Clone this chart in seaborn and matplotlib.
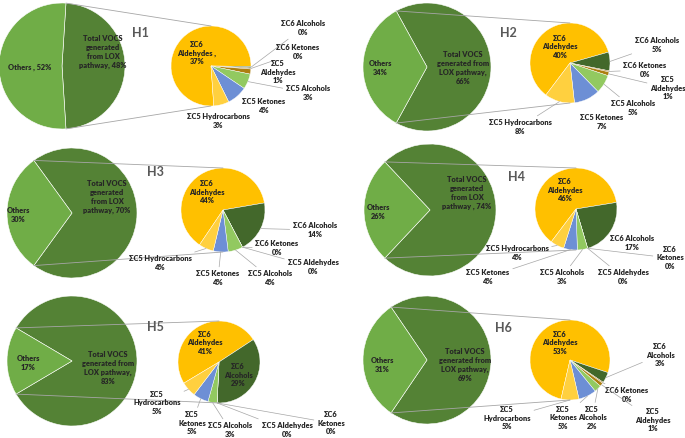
import numpy as np
import matplotlib
matplotlib.use("Agg")
import matplotlib.pyplot as plt
import seaborn as sns

## values (percent of total VOCs)
panels = ["H1", "H2", "H3", "H4", "H5", "H6"]
others = [52, 34, 30, 26, 17, 31]
lox = [48, 66, 70, 74, 83, 69]

c6_aldehydes = [37, 40, 44, 46, 41, 53]
c6_alcohols = [0.3, 5, 14, 17, 29, 3]
c6_ketones = [0.2, 0.3, 0, 0, 0, 0.3]
c5_aldehydes = [1, 1, 0, 0, 0, 1]
c5_alcohols = [3, 5, 4, 3, 3, 2]
c5_ketones = [4, 7, 4, 4, 5, 5]
c5_hydrocarbons = [3, 8, 4, 4, 5, 5]

sub_series = [c6_aldehydes, c6_alcohols, c6_ketones, c5_aldehydes,
              c5_alcohols, c5_ketones, c5_hydrocarbons]

## label texts
others_fmt = ["Others , {}", "Others\n{}", "Others\n{}", "Others\n{}", "Others\n{}", "Others\n{}"]
lox_fmt = ["Total VOCS\ngenerated\nfrom LOX\npathway, {}",
           "Total VOCS\ngenerated from\nLOX pathway,\n{}",
           "Total VOCS\ngenerated\nfrom LOX\npathway, {}",
           "Total VOCS\ngenerated\nfrom LOX\npathway , {}",
           "Total VOCS\ngenerated from\nLOX pathway,\n{}",
           "Total VOCS\ngenerated from\nLOX pathway,\n{}"]
ald_fmt = ["ΣC6\nAldehydes ,\n{}", "ΣC6\nAldehydes\n{}", "ΣC6\nAldehydes\n{}",
           "ΣC6\nAldehydes\n{}", "ΣC6\nAldehydes\n{}", "ΣC6\nAldehydes\n{}"]

## layout in pixels (y from top)
W, H = 685, 438
big_xy = [(62, 66), (427, 67), (72, 213), (430, 210), (72, 361), (427, 360)]
big_r = [63, 64, 65, 66, 65, 64]
small_xy = [(211, 66), (570, 63), (223, 210), (576, 209), (219, 362), (570, 360)]
small_r = [40, 40, 42, 41, 41, 40]
small_start = [274, 233, 236, 233, 211, 257]
title_xy = [(140, 33), (508, 33), (155, 172), (517, 177), (155, 327), (503, 328)]
others_xy = [(30, 67), (380, 68), (18, 215), (378, 212), (28, 363), (382, 365)]
lox_xy = [(103, 52), (463, 68), (107, 197), (467, 193), (108, 368), (465, 365)]
ald_xy = [(197, 53), (560, 47), (207, 192), (565, 190), (205, 343), (560, 343)]

# (series index, text, x, y, leader line)
sub_labels = [
    [(1, "ΣC6 Alcohols\n{}", 303, 28, True), (2, "ΣC6 Ketones\n{}", 298, 52, True),
     (3, "ΣC5\nAldehydes\n{}", 278, 72, False), (4, "ΣC5 Alcohols\n{}", 308, 93, True),
     (5, "ΣC5 Ketones\n{}", 264, 106, False), (6, "ΣC5 Hydrocarbons\n{}", 218, 121, False)],
    [(1, "ΣC6 Alcohols\n{}", 657, 45, True), (2, "ΣC6 Ketones\n{}", 645, 70, True),
     (3, "ΣC5\nAldehydes\n{}", 668, 88, True), (4, "ΣC5 Alcohols\n{}", 633, 108, True),
     (5, "ΣC5 Ketones\n{}", 602, 122, False), (6, "ΣC5 Hydrocarbons\n{}", 520, 127, True)],
    [(1, "ΣC6 Alcohols\n{}", 315, 230, True), (2, "ΣC6 Ketones\n{}", 277, 248, True),
     (3, "ΣC5 Aldehydes\n{}", 313, 267, True), (4, "ΣC5 Alcohols\n{}", 270, 278, True),
     (5, "ΣC5 Ketones\n{}", 218, 278, True), (6, "ΣC5 Hydrocarbons\n{}", 160, 263, True)],
    [(1, "ΣC6 Alcohols\n{}", 632, 243, False), (2, "ΣC6\nKetones\n{}", 670, 258, True),
     (3, "ΣC5 Aldehydes\n{}", 623, 277, True), (4, "ΣC5 Alcohols\n{}", 562, 277, True),
     (5, "ΣC5 Ketones\n{}", 488, 277, True), (6, "ΣC5 Hydrocarbons\n{}", 517, 253, True)],
    [(1, "ΣC6\nAlcohols\n{}", 238, 375, False), (2, "ΣC6\nKetones\n{}", 331, 423, True),
     (3, "ΣC5 Aldehydes\n{}", 287, 430, True), (4, "ΣC5 Alcohols\n{}", 230, 430, True),
     (5, "ΣC5\nKetones\n{}", 192, 423, True), (6, "ΣC5\nHydrocarbons\n{}", 157, 403, True)],
    [(1, "ΣC6\nAlcohols\n{}", 660, 355, True), (2, "ΣC6 Ketones\n{}", 627, 395, True),
     (3, "ΣC5\nAldehydes\n{}", 653, 420, True), (4, "ΣC5\nAlcohols\n{}", 592, 418, True),
     (5, "ΣC5\nKetones\n{}", 563, 418, True), (6, "ΣC5\nHydrocarbons\n{}", 507, 418, True)],
]

sns.set_theme(style="white")
plt.rcParams['font.family'] = ['Lato', 'DejaVu Sans']

big_colors = sns.color_palette(["#548235", "#70AD47"])
sub_colors = sns.color_palette(["#FFC000", "#43682B", "#9E6A0B", "#AD7F10",
                                "#92C960", "#6D8FD5", "#FFD03F"])
txt_col = "#262626"
line_col = "#A6A6A6"
fs = 5.3
fw = "heavy"


def P(x, y):
    return (x, H - y)


def pct(v):
    return f"{v:.0f}%"


fig = plt.figure(figsize=(6.85, 4.38), dpi=100)
ax = fig.add_axes([0, 0, 1, 1])

for i, name in enumerate(panels):
    bx, by = P(*big_xy[i])
    half = 180 * lox[i] / (lox[i] + others[i])
    ax.pie([lox[i], others[i]], center=(bx, by), radius=big_r[i],
           colors=big_colors, startangle=half, counterclock=False,
           wedgeprops=dict(edgecolor="white", linewidth=0.4))

    sx, sy = P(*small_xy[i])
    vals = [s[i] for s in sub_series]
    wedges, _ = ax.pie(vals, center=(sx, sy), radius=small_r[i],
                       colors=sub_colors, startangle=small_start[i],
                       counterclock=False,
                       wedgeprops=dict(edgecolor="white", linewidth=0.3))

    # series lines between the two pies
    a = np.deg2rad(half)
    ax.plot([bx + big_r[i] * np.cos(a), sx], [by + big_r[i] * np.sin(a), sy + small_r[i]],
            color=line_col, lw=0.6)
    ax.plot([bx + big_r[i] * np.cos(a), sx], [by - big_r[i] * np.sin(a), sy - small_r[i]],
            color=line_col, lw=0.6)

    ax.text(*P(*title_xy[i]), name, ha="center", va="center", fontsize=9,
            fontweight="bold", color="#595959")
    ax.text(*P(*others_xy[i]), others_fmt[i].format(pct(others[i])), ha="center",
            va="center", fontsize=fs, fontweight=fw, color=txt_col, linespacing=1.3)
    ax.text(*P(*lox_xy[i]), lox_fmt[i].format(pct(lox[i])), ha="center",
            va="center", fontsize=fs, fontweight=fw, color=txt_col, linespacing=1.3)
    ax.text(*P(*ald_xy[i]), ald_fmt[i].format(pct(c6_aldehydes[i])), ha="center",
            va="center", fontsize=fs, fontweight=fw, color=txt_col, linespacing=1.3)

    for k, fmt, lx, ly, leader in sub_labels[i]:
        txt = fmt.format(pct(vals[k]))
        w = wedges[k]
        mid = np.deg2rad((w.theta1 + w.theta2) / 2)
        edge = (sx + small_r[i] * np.cos(mid), sy + small_r[i] * np.sin(mid))
        if leader:
            ax.annotate(txt, xy=edge, xytext=P(lx, ly), ha="center", va="center",
                        fontsize=fs, fontweight=fw, color=txt_col, linespacing=1.3,
                        arrowprops=dict(arrowstyle="-", color=line_col, lw=0.5,
                                        shrinkA=0, shrinkB=0))
        else:
            ax.text(*P(lx, ly), txt, ha="center", va="center", fontsize=fs,
                    fontweight=fw, color=txt_col, linespacing=1.3)

ax.set_xlim(0, W)
ax.set_ylim(0, H)
ax.set_aspect("equal")
ax.axis("off")
fig.savefig("out.png", dpi=100, facecolor="white")
